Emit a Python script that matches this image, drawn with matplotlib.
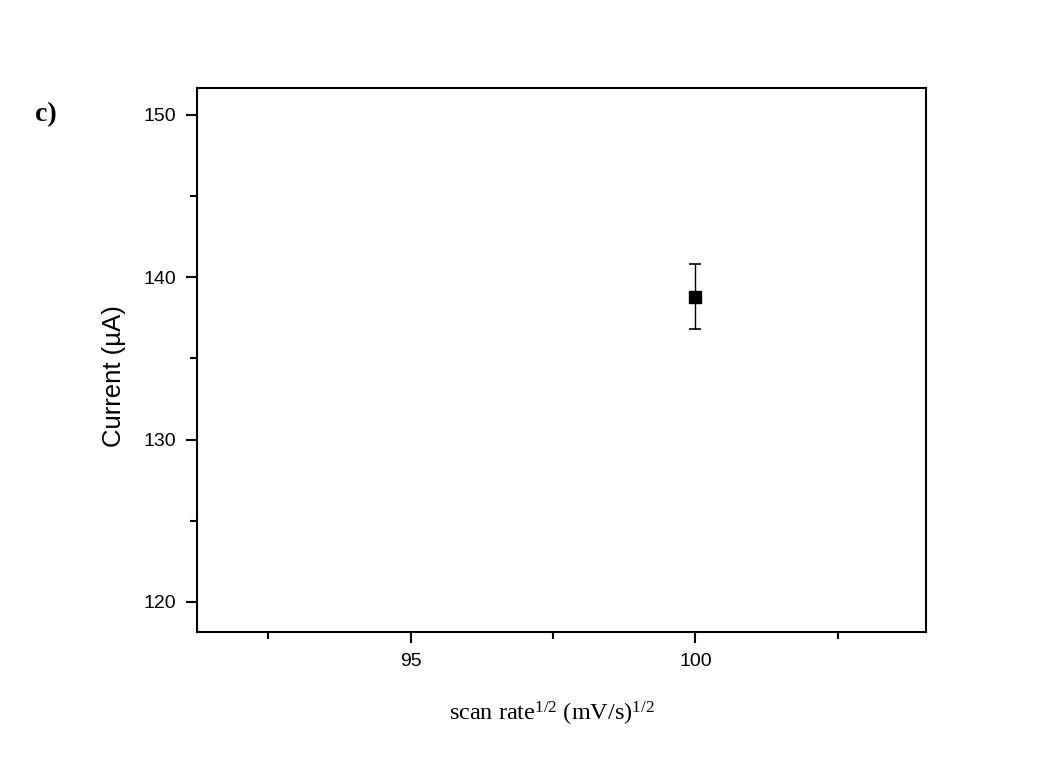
import matplotlib
matplotlib.use("Agg")
import matplotlib.pyplot as plt
from matplotlib.ticker import MultipleLocator

# data
scan_rate = [100.0]
current = [138.8]
current_err = [2.0]

plt.rcParams['mathtext.fontset'] = 'custom'
plt.rcParams['mathtext.rm'] = 'Liberation Serif'
plt.rcParams['mathtext.it'] = 'Liberation Serif'

fig = plt.figure(figsize=(10.6, 7.58), dpi=100)
ax = fig.add_axes([0.1858, 0.1662, 0.6878, 0.7177])

ax.errorbar(scan_rate, current, yerr=current_err, fmt='s', color='black',
            markersize=8.5, ecolor='black', elinewidth=1, capsize=4, capthick=1.2)

ax.set_xlim(91.25, 104.05)
ax.set_ylim(118.15, 151.65)
ax.xaxis.set_major_locator(MultipleLocator(5))
ax.xaxis.set_minor_locator(MultipleLocator(2.5))
ax.yaxis.set_major_locator(MultipleLocator(10))
ax.yaxis.set_minor_locator(MultipleLocator(5))

ax.tick_params(which='both', direction='out', top=False, right=False, width=1.5)
ax.tick_params(which='major', length=8, labelsize=14, pad=7)
ax.tick_params(which='minor', length=5)
for lbl in ax.get_xticklabels() + ax.get_yticklabels():
    lbl.set_family('Liberation Sans')
for s in ax.spines.values():
    s.set_linewidth(1.5)

ax.set_ylabel('Current (\u00b5A)', fontsize=18.5, family='Liberation Sans')
ax.yaxis.set_label_coords(-0.097, 0.47)
ax.set_xlabel(r'scan rate$^{\mathregular{1/2}}$ (mV/s)$^{\mathregular{1/2}}$', fontsize=17.5,
              family='Liberation Serif', labelpad=20)
ax.xaxis.set_label_coords(0.487, -0.125)

fig.text(0.033, 0.84, 'c)', fontsize=20, fontweight='bold', family='Liberation Serif')

fig.savefig('out.png', dpi=100)
